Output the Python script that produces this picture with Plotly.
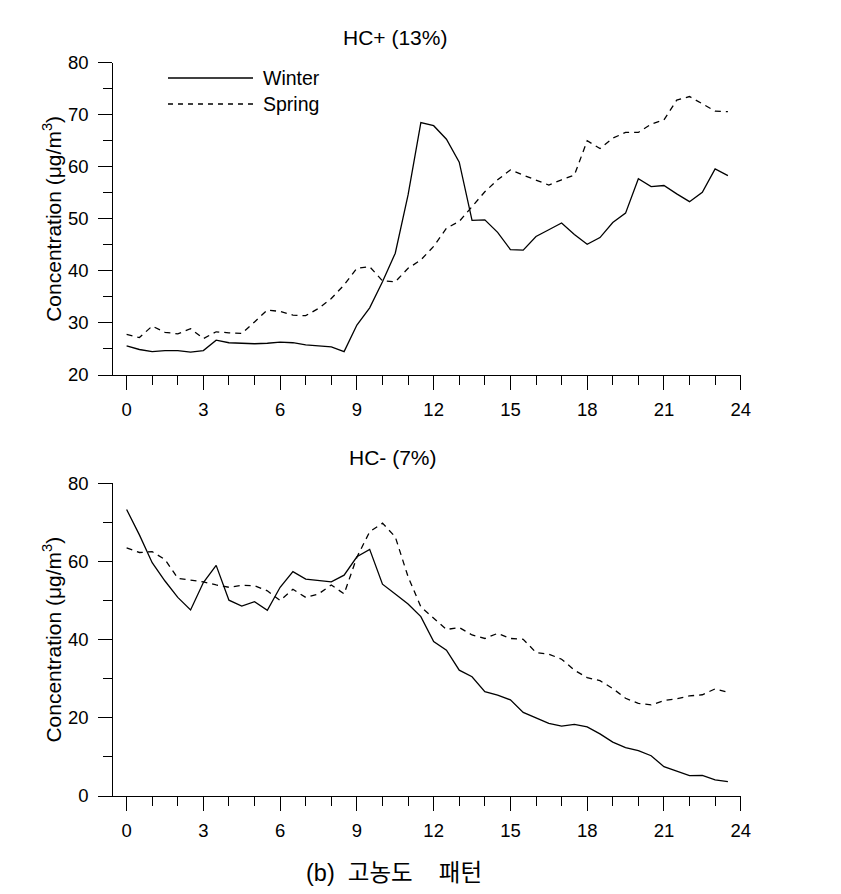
import plotly.graph_objects as go

hours = [i * 0.5 for i in range(48)]

hc_plus_winter = [25.6, 24.9, 24.5, 24.7, 24.7, 24.4, 24.7, 26.7, 26.2, 26.1,
                  26.0, 26.1, 26.3, 26.2, 25.8, 25.6, 25.4, 24.5, 29.6, 32.9,
                  37.9, 43.4, 54.6, 68.5, 67.9, 65.3, 60.9, 49.7, 49.8, 47.4,
                  44.1, 44.0, 46.6, 47.9, 49.2, 47.0, 45.1, 46.4, 49.3, 51.1,
                  57.7, 56.2, 56.4, 54.8, 53.3, 55.1, 59.6, 58.3]
hc_plus_spring = [27.8, 27.2, 29.4, 28.2, 27.9, 28.9, 27.0, 28.3, 28.1, 28.0,
                  30.2, 32.5, 32.2, 31.5, 31.4, 32.8, 34.7, 37.3, 40.5, 40.8,
                  38.1, 37.9, 40.5, 42.1, 44.7, 48.2, 49.5, 52.3, 55.2, 57.5,
                  59.4, 58.4, 57.5, 56.5, 57.5, 58.4, 65.0, 63.5, 65.5, 66.6,
                  66.6, 68.2, 69.0, 72.8, 73.5, 72.1, 70.7, 70.6]
hc_minus_winter = [73.3, 66.8, 59.7, 55.0, 50.8, 47.6, 54.6, 59.0, 50.1, 48.6,
                   49.7, 47.5, 53.4, 57.4, 55.5, 55.2, 54.8, 56.5, 61.2, 63.1,
                   54.2, 51.7, 49.1, 45.9, 39.5, 37.3, 32.2, 30.5, 26.7, 25.8,
                   24.6, 21.4, 19.9, 18.6, 17.9, 18.3, 17.7, 15.9, 13.8, 12.4,
                   11.6, 10.3, 7.5, 6.3, 5.2, 5.3, 4.1, 3.7]
hc_minus_spring = [63.5, 62.3, 62.5, 60.5, 55.7, 55.3, 54.8, 54.0, 53.4, 53.9,
                   53.8, 52.5, 50.0, 52.9, 50.8, 51.7, 54.0, 51.7, 61.1, 67.6,
                   69.8, 66.3, 56.1, 48.4, 45.5, 42.6, 43.1, 41.2, 40.3, 41.6,
                   40.3, 40.1, 36.7, 36.3, 35.0, 32.2, 30.3, 29.5, 27.5, 25.0,
                   23.7, 23.3, 24.4, 24.9, 25.6, 25.9, 27.4, 26.5]

x_ticks = [0, 3, 6, 9, 12, 15, 18, 21, 24]
panel_titles = ["HC+ (13%)", "HC- (7%)"]
series_names = ["Winter", "Spring"]
y_title = "Concentration (μg/m<sup>3</sup>)"
caption = "(b)  고농도    패턴"

# page body has an 8px margin; size the figure so the page fits the window
OFF = 8
W, H = 841 - 2 * OFF, 894 - 2 * OFF
FONT = "Liberation Sans, Arial, Noto Sans CJK KR, sans-serif"

def px_x(v):
    return (v - OFF) / W

def px_y(v):
    return 1 - (v - OFF) / H

fig = go.Figure()

solid = dict(color="black", width=1.3)
dashed = dict(color="black", width=1.3, dash="6px,5px")

fig.add_trace(go.Scatter(x=hours, y=hc_plus_winter, mode="lines", line=solid,
                         name=series_names[0], xaxis="x", yaxis="y", showlegend=False))
fig.add_trace(go.Scatter(x=hours, y=hc_plus_spring, mode="lines", line=dashed,
                         name=series_names[1], xaxis="x", yaxis="y", showlegend=False))
fig.add_trace(go.Scatter(x=hours, y=hc_minus_winter, mode="lines", line=solid,
                         name=series_names[0], xaxis="x2", yaxis="y2", showlegend=False))
fig.add_trace(go.Scatter(x=hours, y=hc_minus_spring, mode="lines", line=dashed,
                         name=series_names[1], xaxis="x2", yaxis="y2", showlegend=False))

xdom = [px_x(113.3), px_x(740.7)]
axis_common = dict(showline=True, linecolor="black", linewidth=1.2, ticks="outside",
                   tickcolor="black", tickwidth=1.2, ticklen=14, showgrid=False,
                   zeroline=False, automargin=False,
                   tickfont=dict(family=FONT, size=18.5, color="black"))

xaxis_cfg = dict(axis_common, range=[-0.52, 24], tickvals=x_ticks,
                 minor=dict(dtick=1, tick0=0, ticklen=9, ticks="outside",
                            tickcolor="black", tickwidth=1.2, showgrid=False),
                 ticklabelstandoff=4)

fig.update_layout(
    width=W, height=H, autosize=False,
    margin=dict(l=0, r=0, t=0, b=0, pad=0, autoexpand=False),
    paper_bgcolor="white", plot_bgcolor="white",
    showlegend=False,
    xaxis=dict(xaxis_cfg, domain=xdom, anchor="y"),
    yaxis=dict(axis_common, domain=[px_y(375), px_y(62.7)], range=[20, 80], dtick=10,
               tick0=0, anchor="x", ticklabelstandoff=6,
               minor=dict(dtick=5, ticklen=9, ticks="outside", tickcolor="black",
                          tickwidth=1.2, showgrid=False)),
    xaxis2=dict(xaxis_cfg, domain=xdom, anchor="y2"),
    yaxis2=dict(axis_common, domain=[px_y(796), px_y(483.3)], range=[0, 80], dtick=20,
                tick0=0, anchor="x2", ticklabelstandoff=6,
                minor=dict(dtick=10, ticklen=9, ticks="outside", tickcolor="black",
                           tickwidth=1.2, showgrid=False)),
)

annotations = [
    dict(text=panel_titles[0], x=px_x(395), y=px_y(37), xref="paper", yref="paper",
         showarrow=False, xanchor="center", yanchor="middle",
         font=dict(family=FONT, size=21, color="black")),
    dict(text=panel_titles[1], x=px_x(393), y=px_y(457), xref="paper", yref="paper",
         showarrow=False, xanchor="center", yanchor="middle",
         font=dict(family=FONT, size=21, color="black")),
    dict(text=y_title, x=px_x(52), y=px_y(218.8), xref="paper", yref="paper",
         showarrow=False, textangle=-90, xanchor="center", yanchor="middle",
         font=dict(family=FONT, size=21, color="black")),
    dict(text=y_title, x=px_x(52), y=px_y(639.6), xref="paper", yref="paper",
         showarrow=False, textangle=-90, xanchor="center", yanchor="middle",
         font=dict(family=FONT, size=21, color="black")),
    dict(text=caption, x=px_x(394), y=px_y(873), xref="paper", yref="paper",
         showarrow=False, xanchor="center", yanchor="middle",
         font=dict(family=FONT, size=23.5, color="black")),
    dict(text=series_names[0], x=px_x(261), y=px_y(78), xref="paper", yref="paper",
         showarrow=False, xanchor="left", yanchor="middle",
         font=dict(family=FONT, size=19.5, color="black")),
    dict(text=series_names[1], x=px_x(261), y=px_y(104), xref="paper", yref="paper",
         showarrow=False, xanchor="left", yanchor="middle",
         font=dict(family=FONT, size=19.5, color="black")),
]
fig.update_layout(annotations=annotations)

# legend key lines
fig.add_shape(type="line", xref="paper", yref="paper", x0=px_x(168), x1=px_x(253),
              y0=px_y(78), y1=px_y(78), line=solid)
fig.add_shape(type="line", xref="paper", yref="paper", x0=px_x(168), x1=px_x(253),
              y0=px_y(104), y1=px_y(104), line=dict(color="black", width=1.3, dash="5px,5px"))

fig.write_html("out.html", config={"displayModeBar": False})
